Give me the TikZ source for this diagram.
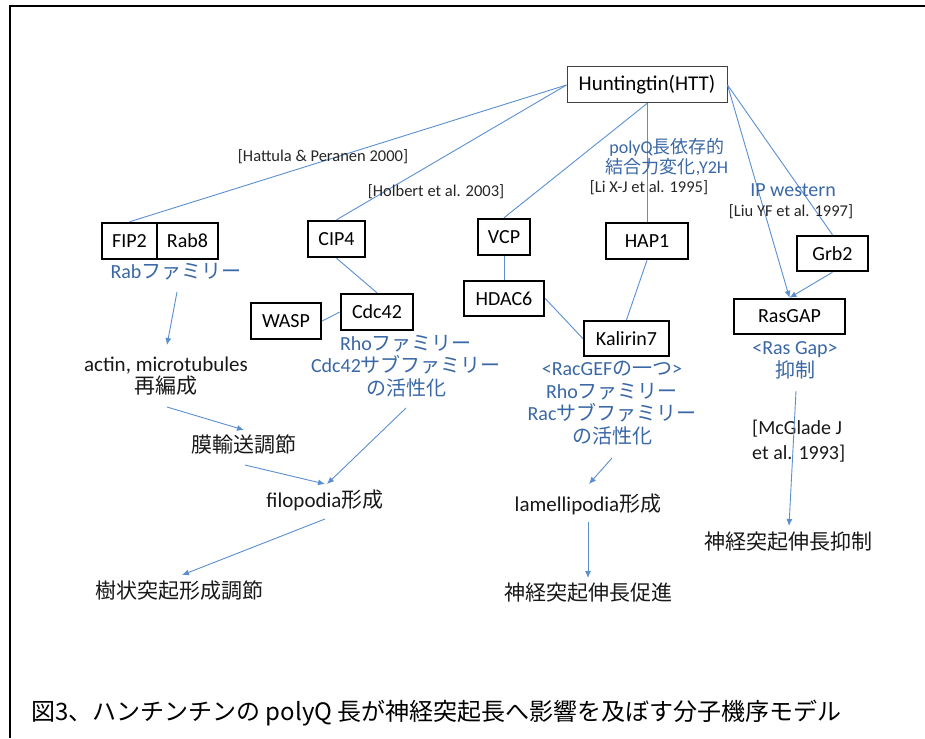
\documentclass[tikz,border=0pt]{standalone}
\usepackage{fontspec}
\setmainfont{Carlito}
\newfontfamily\cjk{Noto Sans CJK JP}
\newcommand\jpn[1]{{\cjk #1}}
\usetikzlibrary{arrows.meta}
\definecolor{lc}{HTML}{5B8FD0}
\definecolor{tc}{HTML}{3A68A6}
\begin{document}
\begin{tikzpicture}[x=1pt,y=-1pt,
  box/.style={draw=black, line width=2.4pt, inner sep=0pt, font=\fontsize{20}{24}\selectfont},
  thinbox/.style={draw=black!75, line width=1pt, inner sep=0pt, font=\fontsize{21}{24}\selectfont},
  conn/.style={draw=lc, line width=0.9pt},
  arr/.style={conn, -{Latex[length=7pt,width=6pt]}},
  bl/.style={text=tc, align=center, inner sep=0pt, font=\fontsize{20}{22.6}\selectfont},
  pq/.style={text=tc, align=center, inner sep=0pt, font=\fontsize{18}{20}\selectfont},
  bk/.style={text=black!90, align=center, inner sep=0pt, font=\fontsize{21}{22}\selectfont},
  cite/.style={text=black!85, inner sep=0pt, font=\fontsize{16.5}{20}\selectfont}]
\useasboundingbox (0,0) rectangle (925,738);
\fill[white] (0,0) rectangle (925,738);
\draw[line width=1.6pt] (10,738) -- (10,6) -- (925,6);

% boxes
\node[thinbox, minimum width=160, minimum height=36] (htt) at (647,85) {Huntingtin(HTT)};
\node[box, minimum width=55, minimum height=36] (fip) at (129.5,241) {FIP2};
\node[box, minimum width=61, minimum height=36] (rab) at (187.5,241) {Rab8};
\node[box, minimum width=57, minimum height=36] (cip) at (336.5,239) {CIP4};
\node[box, minimum width=52, minimum height=36] (vcp) at (504,237) {VCP};
\node[box, minimum width=82, minimum height=36] (hap) at (647,241) {HAP1};
\node[box, minimum width=71, minimum height=35] (grb) at (832.5,253.5) {Grb2};
\node[box, minimum width=80, minimum height=35] (hdac) at (504,298.5) {HDAC6};
\node[box, minimum width=85, minimum height=35] (kal) at (626.5,338.5) {Kalirin7};
\node[box, minimum width=111, minimum height=35] (ras) at (789.5,316.5) {RasGAP};
\node[box, minimum width=70, minimum height=36] (wasp) at (286,321) {WASP};
\node[box, minimum width=72, minimum height=36] (cdc) at (377,312) {Cdc42};

% connectors between boxes
\draw[conn] (htt.west) -- (fip.north);
\draw[conn] (htt.west) -- (cip.north);
\draw[conn] (htt.south) -- (vcp.north);
\draw[conn] (htt.south) -- (hap.north);
\draw[arr] (htt.east) -- (ras.north);
\draw[conn] (htt.east) -- (grb.north);
\draw[arr] (grb.south) -- (ras.north);
\draw[conn] (cip.south) -- (cdc.north);
\draw[conn] (wasp.east) -- (cdc.west);
\draw[conn] (vcp.south) -- (hdac.north);
\draw[conn] (hdac.east) -- (kal.west);
\draw[conn] (hap.south) -- (kal.north);

% labels
\node[cite] (hatt) at (323,157) {[Hattula \& Peranen 2000]};
\node[cite] (holb) at (436,192) {[Holbert et al. 2003]};
\node[pq] (polyq) at (667,157) {polyQ\jpn{長依存的}\\\jpn{結合力変化},Y2H};
\node[cite] (li) at (649,188) {[Li X-J et al. 1995]};
\node[bl] (ipw) at (793,190) {IP western};
\node[cite] (liu) at (791,212) {[Liu YF et al. 1997]};
\node[bl] (rabfam) at (176,272) {Rab\jpn{ファミリー}};
\node[bk] (actin) at (166,376) {actin, microtubules\\\jpn{再編成}};
\node[bk] (maku) at (244,445) {\jpn{膜輸送調節}};
\node[bk] (filo) at (325,500) {filopodia\jpn{形成}};
\node[bk] (jusho) at (179,591) {\jpn{樹状突起形成調節}};
\node[bl] (rho) at (406,366) {Rho\jpn{ファミリー}\\Cdc42\jpn{サブファミリー}\\\jpn{の活性化}};
\node[bl] (rac) at (612,403) {<RacGEF\jpn{の一つ}>\\Rho\jpn{ファミリー}\\Rac\jpn{サブファミリー}\\\jpn{の活性化}};
\node[bk] (lamelli) at (588,504) {lamellipodia\jpn{形成}};
\node[bk] (prom) at (588,593) {\jpn{神経突起伸長促進}};
\node[bl, font=\fontsize{20}{23}\selectfont] (rasgap) at (795,360.5) {<Ras Gap>\\\jpn{抑制}};
\node[bk, align=left, anchor=west, font=\fontsize{20}{25}\selectfont] (mcg) at (752,441.5) {[McGlade J\\et al. 1993]};
\node[bk] (inhib) at (788,542) {\jpn{神経突起伸長抑制}};
\node[inner sep=0pt, anchor=west, text=black, font=\fontsize{24}{26}\selectfont] (cap) at (31,713) {\jpn{図3、ハンチンチンの polyQ 長が神経突起長へ影響を及ぼす分子機序モデル}};

% arrow end points
\coordinate (a1s) at (177,292); \coordinate (a1e) at (167,345);
\coordinate (a2s) at (167,407); \coordinate (a2e) at (244,430);
\coordinate (a3s) at (245,465); \coordinate (a3e) at (325,484);
\coordinate (a4s) at (406,408); \coordinate (a4e) at (327,484);
\coordinate (a5s) at (325,519); \coordinate (a5e) at (182,575);
\coordinate (a6s) at (612,458); \coordinate (a6e) at (589,484);
\coordinate (a7s) at (588,522); \coordinate (a7e) at (588,578);
\coordinate (a8s) at (796,391); \coordinate (a8e) at (789,526);
\draw[arr] (a1s) -- (a1e);
\draw[arr] (a2s) -- (a2e);
\draw[arr] (a3s) -- (a3e);
\draw[arr] (a4s) -- (a4e);
\draw[arr] (a5s) -- (a5e);
\draw[arr] (a6s) -- (a6e);
\draw[arr] (a7s) -- (a7e);
\draw[arr] (a8s) -- (a8e);
\end{tikzpicture}
\end{document}
